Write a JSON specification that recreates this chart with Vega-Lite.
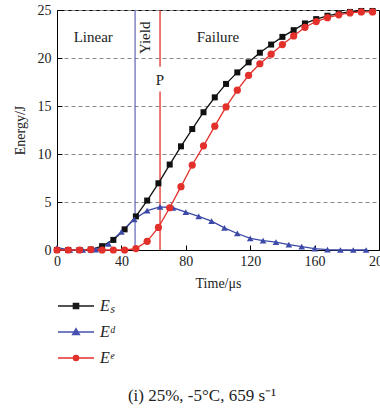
{
  "$schema": "https://vega.github.io/schema/vega-lite/v6.json",
  "width": 322,
  "height": 240,
  "autosize": "none",
  "padding": {"left": 57, "top": 10, "right": 1, "bottom": 162},
  "background": "white",
  "config": {
    "view": {"stroke": "black", "strokeWidth": 1},
    "font": "Liberation Serif",
    "axis": {
      "labelFont": "Liberation Serif",
      "titleFont": "Liberation Serif",
      "labelColor": "#222",
      "titleColor": "#222",
      "titleFontWeight": "normal",
      "domainColor": "black",
      "tickColor": "black",
      "labelFontSize": 14,
      "titleFontSize": 14
    }
  },
  "title": {
    "text": "(i) 25%, -5°C, 659 s⁻¹",
    "orient": "bottom",
    "font": "Liberation Serif",
    "fontSize": 17,
    "fontWeight": "normal",
    "color": "#222",
    "offset": 22,
    "dx": -16,
    "anchor": "middle"
  },
  "datasets": {
    "series": [
      {"series": "Eₛ", "t": 0, "e": 0}, {"series": "Eₛ", "t": 7, "e": 0}, {"series": "Eₛ", "t": 14, "e": 0},
      {"series": "Eₛ", "t": 21, "e": 0.05}, {"series": "Eₛ", "t": 28, "e": 0.4}, {"series": "Eₛ", "t": 35, "e": 1.05},
      {"series": "Eₛ", "t": 42, "e": 2.15}, {"series": "Eₛ", "t": 49, "e": 3.5}, {"series": "Eₛ", "t": 56, "e": 5.15},
      {"series": "Eₛ", "t": 63, "e": 6.95}, {"series": "Eₛ", "t": 70, "e": 8.9}, {"series": "Eₛ", "t": 77, "e": 10.8},
      {"series": "Eₛ", "t": 84, "e": 12.6}, {"series": "Eₛ", "t": 91, "e": 14.35}, {"series": "Eₛ", "t": 98, "e": 15.9},
      {"series": "Eₛ", "t": 105, "e": 17.3}, {"series": "Eₛ", "t": 112, "e": 18.5}, {"series": "Eₛ", "t": 119, "e": 19.55},
      {"series": "Eₛ", "t": 126, "e": 20.55}, {"series": "Eₛ", "t": 133, "e": 21.4}, {"series": "Eₛ", "t": 140, "e": 22.2},
      {"series": "Eₛ", "t": 147, "e": 22.9}, {"series": "Eₛ", "t": 154, "e": 23.6}, {"series": "Eₛ", "t": 161, "e": 24.05},
      {"series": "Eₛ", "t": 168, "e": 24.4}, {"series": "Eₛ", "t": 175, "e": 24.65}, {"series": "Eₛ", "t": 182, "e": 24.8},
      {"series": "Eₛ", "t": 189, "e": 24.9}, {"series": "Eₛ", "t": 196, "e": 24.9},
      {"series": "Eᵈ", "t": 0, "e": 0.25}, {"series": "Eᵈ", "t": 8, "e": 0}, {"series": "Eᵈ", "t": 16, "e": 0},
      {"series": "Eᵈ", "t": 24, "e": 0.05}, {"series": "Eᵈ", "t": 32, "e": 0.65}, {"series": "Eᵈ", "t": 40, "e": 1.9},
      {"series": "Eᵈ", "t": 48, "e": 3.2}, {"series": "Eᵈ", "t": 56, "e": 4.1}, {"series": "Eᵈ", "t": 64, "e": 4.5},
      {"series": "Eᵈ", "t": 72, "e": 4.4}, {"series": "Eᵈ", "t": 80, "e": 3.95}, {"series": "Eᵈ", "t": 88, "e": 3.5},
      {"series": "Eᵈ", "t": 96, "e": 3.0}, {"series": "Eᵈ", "t": 104, "e": 2.3}, {"series": "Eᵈ", "t": 112, "e": 1.72},
      {"series": "Eᵈ", "t": 120, "e": 1.2}, {"series": "Eᵈ", "t": 128, "e": 0.98}, {"series": "Eᵈ", "t": 136, "e": 0.83},
      {"series": "Eᵈ", "t": 144, "e": 0.57}, {"series": "Eᵈ", "t": 152, "e": 0.35}, {"series": "Eᵈ", "t": 160, "e": 0.15},
      {"series": "Eᵈ", "t": 168, "e": 0.03}, {"series": "Eᵈ", "t": 176, "e": 0}, {"series": "Eᵈ", "t": 184, "e": 0},
      {"series": "Eᵈ", "t": 192, "e": 0},
      {"series": "Eᵉ", "t": 0, "e": 0}, {"series": "Eᵉ", "t": 7, "e": 0}, {"series": "Eᵉ", "t": 14, "e": 0},
      {"series": "Eᵉ", "t": 21, "e": 0.05}, {"series": "Eᵉ", "t": 28, "e": 0}, {"series": "Eᵉ", "t": 35, "e": 0},
      {"series": "Eᵉ", "t": 42, "e": 0}, {"series": "Eᵉ", "t": 49, "e": 0.15}, {"series": "Eᵉ", "t": 56, "e": 0.9},
      {"series": "Eᵉ", "t": 63, "e": 2.35}, {"series": "Eᵉ", "t": 70, "e": 4.4}, {"series": "Eᵉ", "t": 77, "e": 6.6},
      {"series": "Eᵉ", "t": 84, "e": 8.85}, {"series": "Eᵉ", "t": 91, "e": 10.85}, {"series": "Eᵉ", "t": 98, "e": 12.9},
      {"series": "Eᵉ", "t": 105, "e": 14.9}, {"series": "Eᵉ", "t": 112, "e": 16.65}, {"series": "Eᵉ", "t": 119, "e": 18.2},
      {"series": "Eᵉ", "t": 126, "e": 19.4}, {"series": "Eᵉ", "t": 133, "e": 20.4}, {"series": "Eᵉ", "t": 140, "e": 21.4},
      {"series": "Eᵉ", "t": 147, "e": 22.3}, {"series": "Eᵉ", "t": 154, "e": 23.2}, {"series": "Eᵉ", "t": 161, "e": 23.8},
      {"series": "Eᵉ", "t": 168, "e": 24.2}, {"series": "Eᵉ", "t": 175, "e": 24.5}, {"series": "Eᵉ", "t": 182, "e": 24.7},
      {"series": "Eᵉ", "t": 189, "e": 24.8}, {"series": "Eᵉ", "t": 196, "e": 24.8}
    ]
  },
  "layer": [
    {
      "data": {"values": [{"t": 48.5, "y": 0, "y2": 25}]},
      "mark": {"type": "rule", "color": "#6f6fbf", "strokeWidth": 1.3},
      "encoding": {
        "x": {"field": "t", "type": "quantitative", "scale": {"domain": [0, 200], "nice": false},
          "axis": {
            "title": "Time/μs",
            "values": [0, 20, 40, 60, 80, 100, 120, 140, 160, 180, 200],
            "labelExpr": "datum.value % 40 === 0 ? datum.label : ''",
            "labelOverlap": false,
            "labelFlush": false,
            "grid": false,
            "tickSize": {"condition": {"test": "datum.value % 40 === 0", "value": -5}, "value": -3},
            "labelPadding": 9,
            "titlePadding": 8
          }},
        "y": {"field": "y", "type": "quantitative", "scale": {"domain": [0, 25], "nice": false},
          "axis": {
            "title": "Energy/J",
            "values": [0, 2.5, 5, 7.5, 10, 12.5, 15, 17.5, 20, 22.5, 25],
            "labelExpr": "datum.value % 5 === 0 ? datum.label : ''",
            "labelOverlap": false,
            "labelFlush": false,
            "grid": true,
            "gridColor": "#888",
            "gridDash": [4, 3],
            "gridWidth": 1,
            "gridOpacity": {"condition": {"test": "datum.value % 5 !== 0", "value": 0}, "value": 1},
            "tickSize": {"condition": {"test": "datum.value % 5 === 0", "value": -5}, "value": -3},
            "labelPadding": 11,
            "titlePadding": 10
          }},
        "y2": {"field": "y2"}
      }
    },
    {
      "data": {"values": [{"t": 64, "y": 25, "y2": 19.1}, {"t": 64, "y": 16.5, "y2": 0}]},
      "mark": {"type": "rule", "color": "#e0342c", "strokeWidth": 1.3},
      "encoding": {
        "x": {"field": "t", "type": "quantitative"},
        "y": {"field": "y", "type": "quantitative"},
        "y2": {"field": "y2"}
      }
    },
    {
      "data": {"name": "series"},
      "mark": {"type": "line", "strokeWidth": 1.3},
      "encoding": {
        "x": {"field": "t", "type": "quantitative"},
        "y": {"field": "e", "type": "quantitative"},
        "color": {"field": "series", "type": "nominal",
          "scale": {"domain": ["Eₛ", "Eᵈ", "Eᵉ"], "range": ["#111111", "#3d4aa8", "#e3302a"]},
          "legend": null}
      }
    },
    {
      "data": {"name": "series"},
      "mark": {"type": "point", "filled": true, "opacity": 1},
      "encoding": {
        "x": {"field": "t", "type": "quantitative"},
        "y": {"field": "e", "type": "quantitative"},
        "color": {"field": "series", "type": "nominal",
          "scale": {"domain": ["Eₛ", "Eᵈ", "Eᵉ"], "range": ["#111111", "#3d4aa8", "#e3302a"]},
          "legend": null},
        "shape": {"field": "series", "type": "nominal",
          "scale": {"domain": ["Eₛ", "Eᵈ", "Eᵉ"], "range": ["square", "triangle-up", "circle"]},
          "legend": null},
        "size": {"field": "series", "type": "nominal",
          "scale": {"domain": ["Eₛ", "Eᵈ", "Eᵉ"], "range": [36, 52, 46]},
          "legend": null}
      }
    },
    {
      "data": {"values": [
        {"label": "Linear", "t": 22.5, "y": 22.2},
        {"label": "Failure", "t": 100, "y": 22.2},
        {"label": "P", "t": 64, "y": 17.7}
      ]},
      "mark": {"type": "text", "font": "Liberation Serif", "fontSize": 15, "color": "#222", "baseline": "middle", "align": "center"},
      "encoding": {
        "x": {"field": "t", "type": "quantitative"},
        "y": {"field": "y", "type": "quantitative"},
        "text": {"field": "label"}
      }
    },
    {
      "data": {"values": [{"label": "Yield", "t": 54.7, "y": 22.1}]},
      "mark": {"type": "text", "font": "Liberation Serif", "fontSize": 15, "color": "#222", "baseline": "middle", "align": "center", "angle": 270},
      "encoding": {
        "x": {"field": "t", "type": "quantitative"},
        "y": {"field": "y", "type": "quantitative"},
        "text": {"field": "label"}
      }
    },
    {
      "data": {"name": "series"},
      "transform": [{"filter": "false"}],
      "mark": {"type": "point", "filled": false, "opacity": 1, "strokeWidth": 1.4},
      "encoding": {
        "x": {"field": "t", "type": "quantitative"},
        "y": {"field": "e", "type": "quantitative"},
        "color": {"field": "series", "type": "nominal",
          "scale": {"domain": ["Eₛ", "Eᵈ", "Eᵉ"], "range": ["#1a1a1a", "#4651b0", "#e3302a"]},
          "legend": {
            "orient": "none",
            "legendX": 5,
            "legendY": 282,
            "direction": "vertical",
            "title": null,
            "padding": 0,
            "symbolSize": 676,
            "symbolStrokeWidth": 1.4,
            "symbolOpacity": 1,
            "labelFont": "Liberation Serif",
            "labelFontSize": 16,
            "labelFontStyle": "italic",
            "labelColor": "#222",
            "labelOffset": 10,
            "rowPadding": 4
          }},
        "shape": {"field": "series", "type": "nominal",
          "scale": {"domain": ["Eₛ", "Eᵈ", "Eᵉ"],
            "range": [
              "M-1.385,0H1.385M-0.2,-0.2H0.2V0.2H-0.2ZM-0.13,-0.13H0.13V0.13H-0.13ZM-0.06,-0.06H0.06V0.06H-0.06Z",
              "M-1.385,0H1.385M-0.26,0.2L0,-0.25L0.26,0.2ZM-0.169,0.1475L0,-0.145L0.169,0.1475ZM-0.078,0.095L0,-0.04L0.078,0.095Z",
              "M-1.385,0H1.385M-0.2,0A0.2,0.2,0,1,0,0.2,0A0.2,0.2,0,1,0,-0.2,0ZM-0.13,0A0.13,0.13,0,1,0,0.13,0A0.13,0.13,0,1,0,-0.13,0ZM-0.06,0A0.06,0.06,0,1,0,0.06,0A0.06,0.06,0,1,0,-0.06,0Z"
            ]},
          "legend": {
            "orient": "none",
            "legendX": 5,
            "legendY": 282,
            "direction": "vertical",
            "title": null,
            "padding": 0,
            "symbolSize": 676,
            "symbolStrokeWidth": 1.4,
            "symbolOpacity": 1,
            "labelFont": "Liberation Serif",
            "labelFontSize": 16,
            "labelFontStyle": "italic",
            "labelColor": "#222",
            "labelOffset": 10,
            "rowPadding": 4
          }}
      }
    }
  ],
  "resolve": {"scale": {"shape": "independent", "color": "independent"}}
}
